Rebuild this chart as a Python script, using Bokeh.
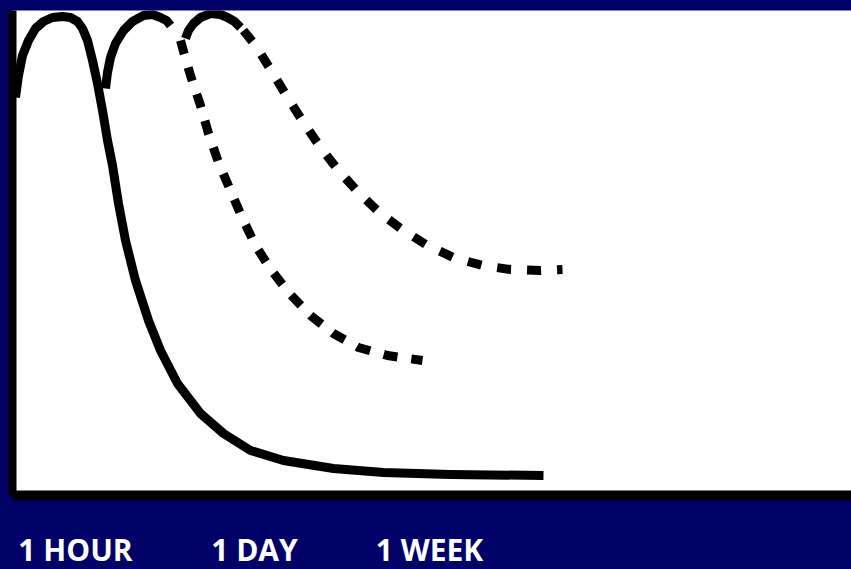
from bokeh.plotting import figure
from bokeh.models import Range1d, FixedTicker, GlobalInlineStyleSheet
from bokeh.embed import file_html
from bokeh.resources import INLINE

# --- data (time units along x, response along y) ---
tick_pos = [63, 242, 417]
tick_labels = ["1 HOUR", "1 DAY", "1 WEEK"]

c1_x = [3, 6, 10, 16, 23, 31, 40, 50, 58, 65, 70, 75, 80, 85, 90, 95, 100, 106, 113, 123,
        136, 148, 165, 188, 211, 238, 271, 321, 371, 438, 531]
c1_y = [398, 420, 440, 455, 467, 474, 478, 479, 478, 474, 467, 455, 435, 412, 385, 355, 330,
        292, 255, 215, 175, 145, 112, 82, 62, 45, 35, 27, 23, 21, 20]

c2_x = [93, 95, 98, 103, 111, 120, 131, 140, 148, 154, 158]
c2_y = [407, 423, 438, 452, 465, 474, 480, 481, 478, 475, 470]

c3_arc_x = [173, 176, 181, 188, 198, 208, 215, 222, 228]
c3_arc_y = [457, 465, 472, 478, 482, 481, 478, 474, 468]

c3_x = [231, 243, 260, 275, 291, 308, 326, 346, 368, 391, 415, 441, 470, 498, 528, 550]
c3_y = [465, 450, 423, 398, 373, 348, 325, 303, 282, 265, 250, 238, 230, 226, 225, 226]

c4_x = [168, 173, 178, 188, 196, 206, 218, 230, 243, 259, 277, 298, 321, 346, 375, 410]
c4_y = [455, 437, 420, 390, 362, 333, 305, 277, 250, 225, 202, 180, 162, 148, 140, 135]

NAVY = "#000066"

p = figure(output_backend="svg", toolbar_location=None,
           x_range=Range1d(0, 839), y_range=Range1d(0, 485),
           min_border_left=12, min_border_right=0, min_border_top=10, min_border_bottom=74)
p.frame_width = 839
p.frame_height = 485
p.background_fill_color = "white"
p.border_fill_color = NAVY
p.outline_line_color = None
p.grid.visible = False

p.xaxis.ticker = FixedTicker(ticks=tick_pos)
p.xaxis.major_label_overrides = {t: l for t, l in zip(tick_pos, tick_labels)}
p.xaxis.major_tick_line_color = None
p.xaxis.minor_tick_line_color = None
p.xaxis.major_tick_out = 0
p.xaxis.major_tick_in = 0
p.xaxis.axis_line_color = "black"
p.xaxis.axis_line_width = 10
p.xaxis.major_label_text_color = "white"
p.xaxis.major_label_text_font = "Open Sans"
p.xaxis.major_label_text_font_style = "bold"
p.xaxis.major_label_text_font_size = "30px"
p.xaxis.major_label_standoff = 33

p.yaxis.ticker = FixedTicker(ticks=[])
p.yaxis.major_tick_line_color = None
p.yaxis.minor_tick_line_color = None
p.yaxis.major_tick_out = 0
p.yaxis.major_tick_in = 0
p.yaxis.major_label_standoff = 0
p.yaxis.major_label_text_font_size = "0px"
p.yaxis.axis_line_color = "black"
p.yaxis.axis_line_width = 8

LW = 9
p.line(c1_x, c1_y, line_color="black", line_width=LW, line_join="round")
p.line(c2_x, c2_y, line_color="black", line_width=LW, line_join="round")
p.line(c3_arc_x, c3_arc_y, line_color="black", line_width=LW, line_join="round")
p.line(c3_x, c3_y, line_color="black", line_width=LW, line_dash="14 16")
p.line(c4_x, c4_y, line_color="black", line_width=LW, line_dash="14 14")

p.stylesheets = [GlobalInlineStyleSheet(css="html, body { background: #000066 !important; }")]

open("out.html", "w").write(file_html(p, INLINE))
